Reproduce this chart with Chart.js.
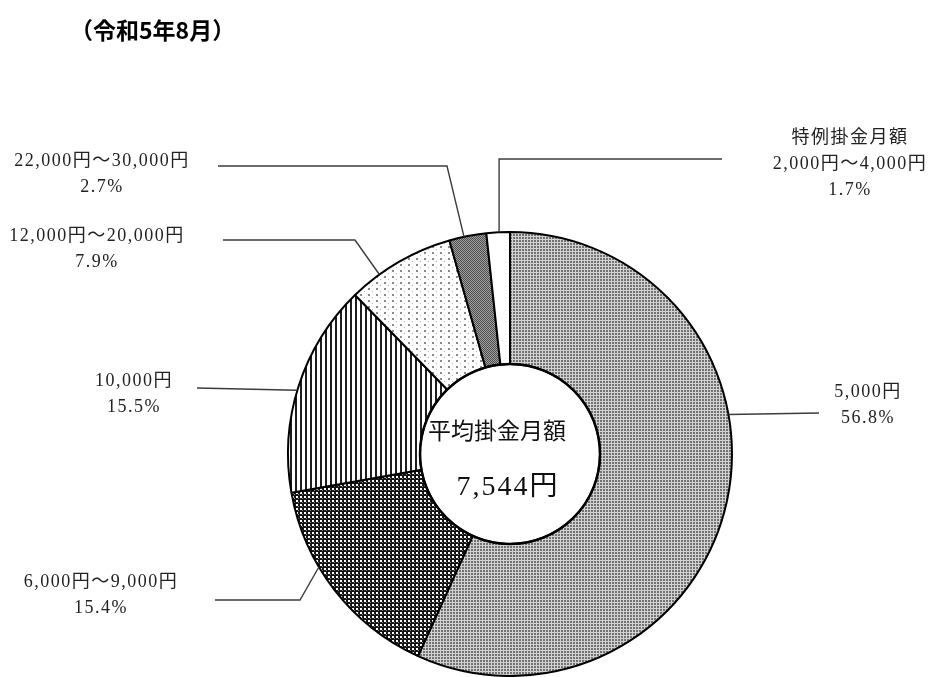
<!DOCTYPE html>
<html lang="ja">
<head>
<meta charset="utf-8">
<script src="https://cdn.jsdelivr.net/npm/chart.js@4.4.0/dist/chart.umd.min.js"></script>
<style>
    html, body { margin: 0; padding: 0; background: #fff; }
    #wrap { position: relative; width: 932px; height: 677px; }
    #title { position: absolute; left: 70px; top: 12px; font: bold 23px "Noto Sans CJK JP", sans-serif; color: #000; }
</style>
</head>
<body>
<div id="wrap">
    <canvas id="graphchart" width="932" height="677"></canvas>
    <div id="title">（令和5年8月）</div>
</div>
<script>
var categories = ['5,000円', '6,000円～9,000円', '10,000円', '12,000円～20,000円', '22,000円～30,000円', '特例掛金月額\n2,000円～4,000円']
var shares = [56.8, 15.4, 15.5, 7.9, 2.7, 1.7]
var centerCaption = '平均掛金月額'
var averageAmount = '7,544円'

// where each leader line leaves the ring (fraction along the slice), its bends, and the label centre
var labelLayout = [
    { at: 0.39, path: [[819, 413]], x: 868, y: 392 },
    { at: 0.63, path: [[300, 600], [215, 600]], x: 101, y: 582 },
    { at: 0.48, path: [[197, 388]], x: 134, y: 381 },
    { at: 0.29, path: [[355, 240], [223, 240]], x: 97, y: 236 },
    { at: 0.40, path: [[447, 166], [218, 166]], x: 102, y: 161 },
    { at: 0.54, path: [[null, 159], [722, 159]], x: 850, y: 138 }
]

var labelFont = '18px "Liberation Serif", "Noto Sans CJK JP", serif'

function makePattern(w, h, bg, marks) {
    var c = document.createElement('canvas')
    c.width = w
    c.height = h
    var g = c.getContext('2d')
    g.fillStyle = bg
    g.fillRect(0, 0, w, h)
    marks.forEach(function (m) {
        g.fillStyle = m[4]
        g.fillRect(m[0], m[1], m[2], m[3])
    })
    return g.createPattern(c, 'repeat')
}

var fills = [
    makePattern(3, 3, '#d2d2d2', [[0, 0, 2, 2, '#727272']]),
    makePattern(4, 4, '#141414', [[0, 0, 2, 2, '#ffffff'], [2, 2, 1, 1, '#8c8c8c']]),
    makePattern(5, 1, '#ffffff', [[0, 0, 2, 1, '#1e1e1e']]),
    makePattern(8, 6, '#ffffff', [[0, 0, 2, 2, '#8a8a8a'], [4, 3, 1, 1, '#b4b4b4']]),
    makePattern(2, 2, '#a0a0a0', [[0, 0, 1, 1, '#4e4e4e'], [1, 1, 1, 1, '#4e4e4e']]),
    '#ffffff'
]

var leaders = {
    id: 'leaders',
    afterDatasetsDraw: function (chart) {
        var ctx = chart.ctx
        var arcs = chart.getDatasetMeta(0).data
        ctx.save()
        ctx.strokeStyle = '#3c3c3c'
        ctx.lineWidth = 1.4
        ctx.fillStyle = '#222'
        ctx.font = labelFont
        ctx.textAlign = 'center'
        ctx.textBaseline = 'middle'
        ctx.letterSpacing = '1.5px'
        arcs.forEach(function (arc, i) {
            var lay = labelLayout[i]
            var p = arc.getProps(['x', 'y', 'startAngle', 'endAngle', 'outerRadius'])
            var a = p.startAngle + (p.endAngle - p.startAngle) * lay.at
            var x0 = p.x + Math.cos(a) * p.outerRadius
            var y0 = p.y + Math.sin(a) * p.outerRadius
            ctx.beginPath()
            ctx.moveTo(x0, y0)
            lay.path.forEach(function (pt) {
                ctx.lineTo(pt[0] === null ? x0 : pt[0], pt[1])
            })
            ctx.stroke()
            var lines = categories[i].split('\n').concat([shares[i].toFixed(1) + '%'])
            lines.forEach(function (t, k) {
                ctx.fillText(t, lay.x, lay.y + k * 26)
            })
        })
        var c = arcs[0]
        // a firmer rim round the hole
        ctx.beginPath()
        ctx.arc(c.x, c.y, c.innerRadius, 0, Math.PI * 2)
        ctx.lineWidth = 2.5
        ctx.strokeStyle = '#000'
        ctx.stroke()
        ctx.fillStyle = '#111'
        ctx.letterSpacing = '0px'
        ctx.font = '23px "Noto Sans CJK JP", sans-serif'
        ctx.fillText(centerCaption, c.x - 13, c.y - 24)
        ctx.letterSpacing = '2px'
        ctx.font = '28px "Liberation Serif", "Noto Sans CJK JP", serif'
        ctx.fillText(averageAmount, c.x - 2, c.y + 34)
        ctx.restore()
    }
}

function showgraphic() {
    var ctx = document.getElementById('graphchart')
    new Chart(ctx, {
        type: 'doughnut',
        data: {
            labels: categories,
            datasets: [{
                data: shares,
                backgroundColor: fills,
                borderColor: '#000',
                borderWidth: 2
            }]
        },
        options: {
            responsive: false,
            animation: false,
            cutout: 90,
            layout: {
                padding: { left: 287, right: 199, top: 231, bottom: 0 }
            },
            plugins: {
                legend: { display: false },
                tooltip: { enabled: false }
            }
        },
        plugins: [leaders]
    })
}

document.addEventListener('DOMContentLoaded', showgraphic)
</script>
</body>
</html>
